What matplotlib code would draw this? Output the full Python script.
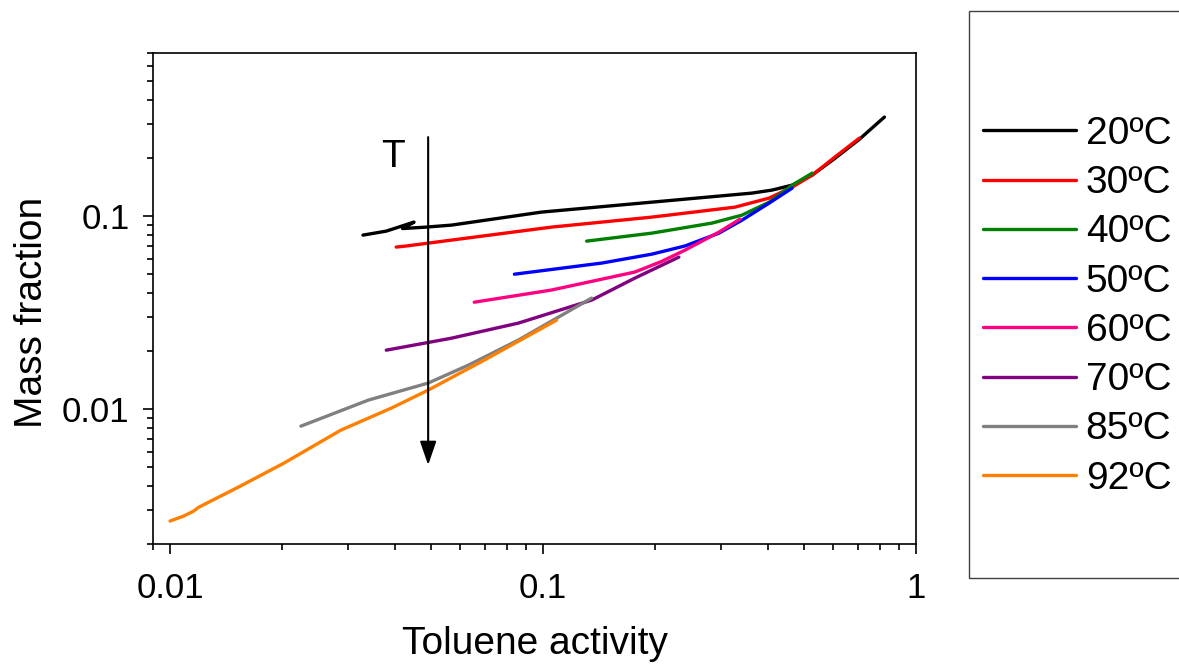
import matplotlib
matplotlib.use("Agg")
import matplotlib.pyplot as plt
from matplotlib.patches import Rectangle
from matplotlib.ticker import LogLocator, FixedLocator, FixedFormatter, NullFormatter

plt.rcParams['font.family'] = ['Liberation Sans', 'DejaVu Sans']

labels = ["20ºC", "30ºC", "40ºC", "50ºC", "60ºC", "70ºC", "85ºC", "92ºC"]
colors = ["#000000", "#ff0000", "#008000", "#0000ff", "#ff0080", "#800080", "#808080", "#ff8000"]

x20 = [0.0329, 0.0380, 0.0451, 0.0420, 0.0486, 0.0568, 0.0991, 0.1957, 0.3635, 0.4113, 0.4656, 0.5270, 0.6075, 0.7049, 0.8228]
y20 = [0.0797, 0.0836, 0.0931, 0.0862, 0.0877, 0.0898, 0.1049, 0.1181, 0.1316, 0.1364, 0.1447, 0.1631, 0.1998, 0.2500, 0.3260]

x30 = [0.0404, 0.0430, 0.0568, 0.1054, 0.1957, 0.3272, 0.4040, 0.4656, 0.5270, 0.6075, 0.7049]
y30 = [0.0691, 0.0700, 0.0751, 0.0877, 0.0988, 0.1113, 0.1240, 0.1413, 0.1631, 0.2030, 0.2535]

x40 = [0.1309, 0.1957, 0.2838, 0.3416, 0.4040, 0.4656, 0.5270]
y40 = [0.0742, 0.0816, 0.0920, 0.1012, 0.1181, 0.1447, 0.1670]

x50 = [0.0838, 0.1437, 0.1957, 0.2401, 0.2963, 0.3416, 0.4040, 0.4656]
y50 = [0.0500, 0.0571, 0.0635, 0.0700, 0.0816, 0.0953, 0.1168, 0.1397]

x60 = [0.0654, 0.1054, 0.1762, 0.2070, 0.2401, 0.2963, 0.3374]
y60 = [0.0358, 0.0414, 0.0513, 0.0580, 0.0666, 0.0826, 0.0965]

x70 = [0.0380, 0.0568, 0.0859, 0.1350, 0.1762, 0.2313]
y70 = [0.0202, 0.0233, 0.0279, 0.0367, 0.0477, 0.0613]

x85 = [0.02243, 0.0340, 0.0492, 0.0631, 0.0859, 0.1350]
y85 = [0.00816, 0.01113, 0.01364, 0.0169, 0.0228, 0.0376]

x92 = [0.0100, 0.01087, 0.01156, 0.01193, 0.01547, 0.0202, 0.0287, 0.0392, 0.0492, 0.0696, 0.1087]
y92 = [0.00263, 0.00279, 0.00296, 0.00310, 0.00400, 0.00525, 0.00778, 0.01012, 0.01254, 0.01795, 0.0289]

series_x = [x20, x30, x40, x50, x60, x70, x85, x92]
series_y = [y20, y30, y40, y50, y60, y70, y85, y92]

xticks = [0.01, 0.1, 1]
xticklabels = ["0.01", "0.1", "1"]
yticks = [0.01, 0.1]
yticklabels = ["0.01", "0.1"]

fig = plt.figure(figsize=(11.79, 6.64), dpi=100)
ax = fig.add_axes([153/1179, 1-544/664, (916-153)/1179, (544-53)/664])

handles = []
for xs, ys, c, lab in zip(series_x, series_y, colors, labels):
    h, = ax.plot(xs, ys, color=c, lw=2.4, label=lab, solid_capstyle='round', solid_joinstyle='round')
    handles.append(h)

ax.set_xscale('log')
ax.set_yscale('log')
ax.set_xlim(0.009, 1.0)
ax.set_ylim(0.002, 0.7)

ax.xaxis.set_major_locator(FixedLocator(xticks))
ax.xaxis.set_major_formatter(FixedFormatter(xticklabels))
ax.xaxis.set_minor_locator(LogLocator(base=10, subs=range(2, 10)))
ax.xaxis.set_minor_formatter(NullFormatter())
ax.yaxis.set_major_locator(FixedLocator(yticks))
ax.yaxis.set_major_formatter(FixedFormatter(yticklabels))
ax.yaxis.set_minor_locator(LogLocator(base=10, subs=range(2, 10)))
ax.yaxis.set_minor_formatter(NullFormatter())

ax.tick_params(which='both', direction='out', top=False, right=False, width=1.2, colors='black')
ax.tick_params(which='major', length=7, labelsize=25)
ax.tick_params(which='minor', length=4)
ax.tick_params(axis='x', which='major', pad=13)
ax.tick_params(axis='y', which='major', pad=10)
for s in ax.spines.values():
    s.set_linewidth(1.2)

ax.set_xlabel("Toluene activity", fontsize=28, labelpad=0)
ax.set_ylabel("Mass fraction", fontsize=28, labelpad=0)
ax.xaxis.set_label_coords(0.5, (544-662)/(544-53), transform=ax.transAxes)
ax.xaxis.label.set_va('bottom')
ax.yaxis.set_label_coords((14-153)/(916-153), (544-312)/(544-53), transform=ax.transAxes)
ax.yaxis.label.set_va('top')

# temperature arrow
ax.annotate("", xy=(0.0492, 0.00513), xytext=(0.0492, 0.2565),
            arrowprops=dict(arrowstyle='-|>,head_length=1.45,head_width=0.5', color='black', lw=1.5,
                            shrinkA=0, shrinkB=0))
ax.text(0.0396, 0.202, "T", fontsize=28, ha='center', va='center')

# legend box
fig.add_artist(Rectangle((969/1179, 1-578/664), 0.3, (578-11)/664, transform=fig.transFigure,
                         fill=False, edgecolor='#404040', lw=1.0))
leg = fig.legend(handles=handles, labels=labels, loc='upper left', bbox_to_anchor=(983/1179, 1-116/664),
                 frameon=False, fontsize=28, handlelength=2.39, handletextpad=0.25, labelspacing=0.34,
                 borderpad=0, borderaxespad=0)

fig.savefig("out.png", dpi=100)
